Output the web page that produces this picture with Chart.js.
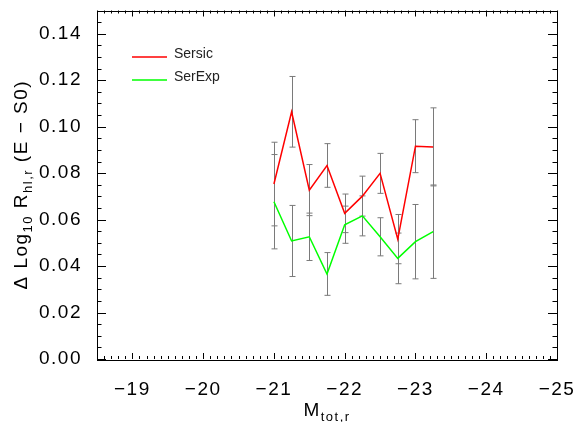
<!DOCTYPE html>
<html>
<head>
<meta charset="utf-8">
<script src="https://cdn.jsdelivr.net/npm/chart.js@4"></script>
<style>
  body { margin: 0; background: #fff; }
</style>
</head>
<body>
<canvas id="chart" width="580" height="422"></canvas>
<script>
// magnitude bins (x)
const mags = [-21, -21.25, -21.5, -21.75, -22, -22.25, -22.5, -22.75, -23, -23.25];

// Sersic (red) and SerExp (green) values with their error bars
const sersic = [0.0753, 0.1064, 0.0727, 0.0833, 0.0627, 0.0701, 0.0799, 0.0516, 0.0916, 0.0913];
const sersicErr = [0.0180, 0.0152, 0.0110, 0.0094, 0.0083, 0.0086, 0.0086, 0.0106, 0.0114, 0.0168];
const serexp = [0.0677, 0.0508, 0.0526, 0.0366, 0.0578, 0.0616, 0.0526, 0.0433, 0.0505, 0.0548];
const serexpErr = [0.0203, 0.0153, 0.0102, 0.0092, 0.0080, 0.0086, 0.0082, 0.0109, 0.0160, 0.0201];

// tick marks
const xTicks = [-19, -20, -21, -22, -23, -24, -25];
const yTicks = [0, 0.02, 0.04, 0.06, 0.08, 0.10, 0.12, 0.14];

const FONT = '"Liberation Sans", Arial, sans-serif';

function pts(ys) {
  return mags.map((m, i) => ({ x: m, y: ys[i] }));
}

// the original axis font is wider, so space the letters a bit
const spacing = {
  id: 'spacing',
  beforeDraw(chart) { chart.ctx.letterSpacing = '1.5px'; }
};

// error bars, drawn under the lines
const errorBars = {
  id: 'errorBars',
  beforeDatasetsDraw(chart) {
    const ctx = chart.ctx;
    const xs = chart.scales.x, ys = chart.scales.y;
    ctx.save();
    ctx.strokeStyle = '#7a7a7a';
    ctx.lineWidth = 1;
    [[sersic, sersicErr], [serexp, serexpErr]].forEach(([vals, errs]) => {
      vals.forEach((v, i) => {
        const px = Math.round(xs.getPixelForValue(mags[i])) + 0.5;
        const top = ys.getPixelForValue(v + errs[i]);
        const bot = ys.getPixelForValue(v - errs[i]);
        ctx.beginPath();
        ctx.moveTo(px, top); ctx.lineTo(px, bot);
        ctx.moveTo(px - 3, top); ctx.lineTo(px + 3, top);
        ctx.moveTo(px - 3, bot); ctx.lineTo(px + 3, bot);
        ctx.stroke();
      });
    });
    ctx.restore();
  }
};

// box, inward ticks on all four sides, legend and axis titles
const frame = {
  id: 'frame',
  afterDraw(chart) {
    const ctx = chart.ctx;
    const a = chart.chartArea;
    const xs = chart.scales.x, ys = chart.scales.y;
    ctx.save();
    ctx.strokeStyle = '#000';
    ctx.lineWidth = 1;
    ctx.strokeRect(Math.round(a.left) + 0.5, Math.round(a.top) + 0.5,
                   Math.round(a.right - a.left), Math.round(a.bottom - a.top));

    ctx.beginPath();
    // x ticks, minor every 0.1
    for (let k = 0; k <= 65; k++) {
      const v = -25 + k * 0.1;
      const px = Math.round(xs.getPixelForValue(v)) + 0.5;
      const major = Math.abs(v - Math.round(v)) < 1e-6;
      const len = major ? 6 : 3;
      ctx.moveTo(px, a.bottom); ctx.lineTo(px, a.bottom - len);
      ctx.moveTo(px, a.top); ctx.lineTo(px, a.top + len);
    }
    // y ticks, minor every 0.005
    for (let k = 0; k <= 30; k++) {
      const v = k * 0.005;
      const py = Math.round(ys.getPixelForValue(v)) + 0.5;
      const len = k % 4 === 0 ? 9 : 4.5;
      ctx.moveTo(a.left, py); ctx.lineTo(a.left + len, py);
      ctx.moveTo(a.right, py); ctx.lineTo(a.right - len, py);
    }
    ctx.stroke();

    // legend inside the plot
    const legend = [['Sersic', '#ff0000'], ['SerExp', '#00ff00']];
    ctx.letterSpacing = '0px';
    ctx.font = '14px ' + FONT;
    ctx.textBaseline = 'alphabetic';
    ctx.textAlign = 'left';
    legend.forEach(([label, color], i) => {
      const y = 57 + i * 23;
      ctx.strokeStyle = color;
      ctx.lineWidth = 1.5;
      ctx.beginPath();
      ctx.moveTo(132, y); ctx.lineTo(167, y);
      ctx.stroke();
      ctx.fillStyle = '#222';
      ctx.fillText(label, 174, y + 1);
    });

    // titles with subscripts
    ctx.letterSpacing = '1.5px';
    ctx.fillStyle = '#000';
    const drawParts = (parts, cx, cy) => {
      let w = 0;
      parts.forEach(p => {
        ctx.font = (p.sub ? '13px ' : '19px ') + FONT;
        p.w = ctx.measureText(p.t).width;
        w += p.w;
      });
      let x = cx - w / 2;
      parts.forEach(p => {
        ctx.font = (p.sub ? '13px ' : '19px ') + FONT;
        ctx.fillText(p.t, x, cy + (p.sub ? 5 : 0));
        x += p.w;
      });
    };
    drawParts([{ t: 'M' }, { t: 'tot,r', sub: true }], (a.left + a.right) / 2, 416);

    ctx.translate(27, (a.top + a.bottom) / 2);
    ctx.rotate(-Math.PI / 2);
    drawParts([
      { t: '\u0394 Log' }, { t: '10', sub: true },
      { t: ' R' }, { t: 'hl,r', sub: true },
      { t: ' (E \u2212 S0)' }
    ], 0, 0);
    ctx.restore();
  }
};

new Chart(document.getElementById('chart'), {
  type: 'line',
  data: {
    datasets: [
      { label: 'Sersic', data: pts(sersic), borderColor: '#ff0000', borderWidth: 1.5,
        pointRadius: 0, tension: 0, fill: false },
      { label: 'SerExp', data: pts(serexp), borderColor: '#00ff00', borderWidth: 1.5,
        pointRadius: 0, tension: 0, fill: false }
    ]
  },
  options: {
    responsive: false,
    animation: false,
    devicePixelRatio: 1,
    layout: { padding: { top: 10.5, right: 23, left: 0, bottom: 0 } },
    plugins: { legend: { display: false }, tooltip: { enabled: false } },
    scales: {
      x: {
        type: 'linear',
        min: -25, max: -18.5,
        reverse: true,
        grid: { display: false },
        border: { display: false },
        afterBuildTicks: s => { s.ticks = xTicks.map(v => ({ value: v })); },
        afterFit: s => { s.height = 63; s.paddingLeft = 0; s.paddingRight = 0; },
        ticks: {
          color: '#000',
          font: { family: FONT, size: 19 },
          padding: 11,
          maxRotation: 0,
          callback: v => '\u2212' + Math.abs(v)
        }
      },
      y: {
        min: 0, max: 0.15,
        grid: { display: false },
        border: { display: false },
        afterBuildTicks: s => { s.ticks = yTicks.map(v => ({ value: v })); },
        afterFit: s => { s.width = 97; s.paddingTop = 0; s.paddingBottom = 0; },
        ticks: {
          color: '#000',
          font: { family: FONT, size: 19 },
          padding: 7,
          callback: v => v.toFixed(2)
        }
      }
    }
  },
  plugins: [spacing, errorBars, frame]
});
</script>
</body>
</html>
